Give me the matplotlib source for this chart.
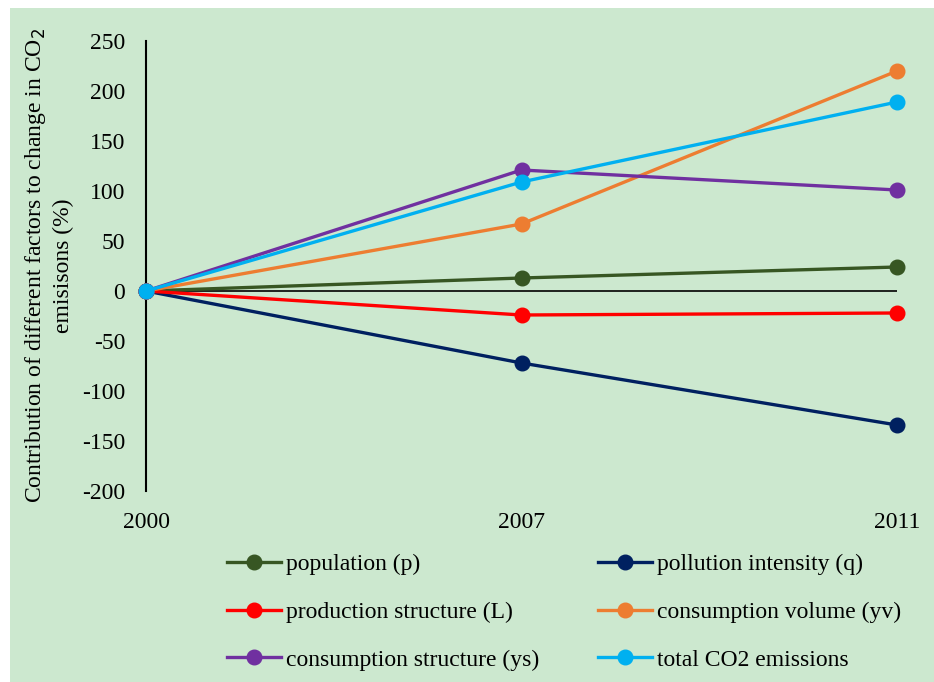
import numpy as np
import matplotlib.pyplot as plt
from matplotlib.patches import Rectangle

plt.rcParams['font.family'] = ['Liberation Serif', 'DejaVu Serif']
plt.rcParams['axes.unicode_minus'] = False

years = ['2000', '2007', '2011']
population = [0, 13, 24]
pollution_intensity = [0, -72, -134]
production_structure = [0, -24, -22]
consumption_volume = [0, 67, 220]
consumption_structure = [0, 121, 101]
total_co2 = [0, 109, 189]

series = [
    ('population (p)', population, '#375623'),
    ('pollution intensity (q)', pollution_intensity, '#002060'),
    ('production structure (L)', production_structure, '#FF0000'),
    ('consumption volume (yv)', consumption_volume, '#ED7D31'),
    ('consumption structure (ys)', consumption_structure, '#7030A0'),
    ('total CO2 emissions', total_co2, '#00B0F0'),
]

bg = '#CCE8CF'
fig = plt.figure(figsize=(9.34, 6.82), dpi=100)
fig.patch.set_facecolor('white')
fig.patches.append(Rectangle((10 / 934, 0), 1, 1 - 8 / 682, transform=fig.transFigure,
                             facecolor=bg, edgecolor='none', zorder=-10))

ax = fig.add_axes([146 / 934, 1 - 491 / 682, (897 - 146) / 934, 450 / 682])
ax.set_facecolor('none')

x = np.arange(len(years))
handles = {}
for name, vals, col in series:
    h, = ax.plot(x, vals, color=col, lw=2.4, marker='o', ms=10.5, label=name,
                 clip_on=False, zorder=3)
    handles[name] = h

ax.set_xlim(0, 2)
ax.set_ylim(-200, 250)
ax.set_yticks(range(-200, 251, 50))
ax.set_xticks(x)
ax.set_xticklabels(years)
ax.tick_params(axis='both', length=0, labelsize=17)
ax.tick_params(axis='x', pad=15)
ax.tick_params(axis='y', pad=15)

for s in ['top', 'right', 'bottom']:
    ax.spines[s].set_visible(False)
ax.spines['left'].set_linewidth(1.5)
ax.axhline(0, color='black', lw=1.2, zorder=1)

ax.set_ylabel('Contribution of different factors to change in CO$_2$\nemisisons (%)',
              fontsize=17, labelpad=6, linespacing=1.3)

order = ['population (p)', 'production structure (L)', 'consumption structure (ys)',
         'pollution intensity (q)', 'consumption volume (yv)', 'total CO2 emissions']
fig.legend([handles[k] for k in order], order, loc='center', ncol=2,
           bbox_to_anchor=(564 / 934, 1 - 612 / 682), frameon=False, fontsize=17,
           handlelength=2.3, handletextpad=0.2, columnspacing=2.5, labelspacing=1.12)

fig.savefig('out.png', dpi=100)
